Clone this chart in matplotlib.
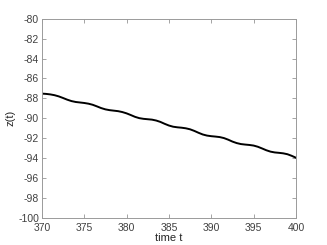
import matplotlib
matplotlib.use("Agg")
import matplotlib.pyplot as plt
import numpy as np

# time samples and z(t) values
t = np.arange(370.0, 400.01, 0.5)
z = [
    -87.52, -87.55, -87.60, -87.68, -87.80, -87.96, -88.13, -88.27, -88.36, -88.41,
    -88.46, -88.53, -88.64, -88.80, -88.97, -89.10, -89.18, -89.23, -89.28, -89.37,
    -89.50, -89.67, -89.85, -89.98, -90.05, -90.09, -90.13, -90.22, -90.36, -90.55,
    -90.72, -90.84, -90.90, -90.94, -91.00, -91.10, -91.26, -91.45, -91.62, -91.73,
    -91.79, -91.83, -91.88, -91.98, -92.14, -92.33, -92.48, -92.58, -92.63, -92.67,
    -92.73, -92.85, -93.02, -93.20, -93.34, -93.42, -93.46, -93.51, -93.60, -93.76,
    -93.95,
]
x_ticks = [370, 375, 380, 385, 390, 395, 400]
y_ticks = list(range(-100, -79, 2))

plt.rcParams["font.family"] = ["Liberation Sans", "DejaVu Sans"]
plt.rcParams["font.size"] = 7
plt.rcParams["axes.unicode_minus"] = False

fig = plt.figure(figsize=(3.27, 2.45), dpi=100)
ax = fig.add_axes([0.128, 0.110, 0.777, 0.814])
ax.plot(t, z, color="black", lw=1.4)

ax.set_xlim(370, 400)
ax.set_ylim(-100, -80)
ax.set_xticks(x_ticks)
ax.set_yticks(y_ticks)
ax.tick_params(direction="in", length=3, width=0.5, color="#808080",
               labelcolor="#404040", top=True, right=True, labelsize=7.5)
ax.tick_params(axis="x", pad=3.5)
ax.tick_params(axis="y", pad=2)
for s in ax.spines.values():
    s.set_color("#9a9a9a")
    s.set_linewidth(0.7)
ax.set_xlabel("time t", fontsize=8, color="#262626", labelpad=0)
ax.set_ylabel("z(t)", fontsize=8, color="#262626", labelpad=2)

fig.savefig("out.png", dpi=100)
